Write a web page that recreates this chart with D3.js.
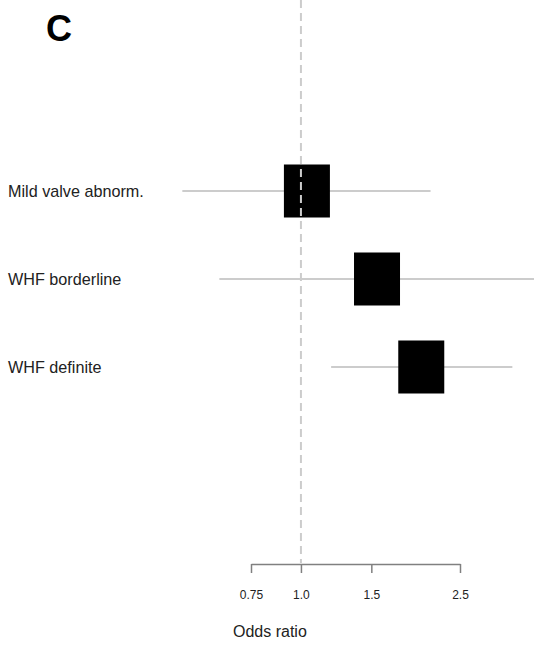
<!DOCTYPE html>
<html>
<head>
<meta charset="utf-8">
<script src="https://cdn.jsdelivr.net/npm/d3@7"></script>
<style>
  body { margin: 0; background: #fff; }
  text { font-family: "Liberation Sans", Arial, Helvetica, sans-serif; }
</style>
</head>
<body>
<svg id="chart" width="534" height="646"></svg>
<script>
// 数据：各类别的比值比及置信区间
const categories = ["Mild valve abnorm.", "WHF borderline", "WHF definite"];
const estimates = [1.035, 1.55, 2.0];
const lower = [0.505, 0.625, 1.19];
const upper = [2.11, 4.0, 3.38];
const tickValues = [0.75, 1.0, 1.5, 2.5];
const tickLabels = ["0.75", "1.0", "1.5", "2.5"];

const W = 534, H = 646;
const svg = d3.select("#chart");

// 对数比例尺
const x = d3.scaleLog().domain([0.75, 2.5]).range([251, 460]);
const y = d3.scalePoint().domain(categories).range([191, 367]);
const axisY = 564;
const boxW = 46, boxH = 53;

// 面板标记
svg.append("text")
  .attr("x", 46).attr("y", 41)
  .attr("font-size", "36px").attr("font-weight", "bold")
  .attr("fill", "#000")
  .text("C");

const rows = categories.map((c, i) => ({ c, est: estimates[i], lo: lower[i], hi: upper[i] }));

// 置信区间
svg.append("g")
  .selectAll("line")
  .data(rows)
  .join("line")
    .attr("x1", d => x(d.lo))
    .attr("x2", d => Math.min(x(d.hi), W))
    .attr("y1", d => y(d.c))
    .attr("y2", d => y(d.c))
    .attr("stroke", "#cccccc")
    .attr("stroke-width", 2);

// 估计值方块
svg.append("g")
  .selectAll("rect")
  .data(rows)
  .join("rect")
    .attr("x", d => x(d.est) - boxW / 2)
    .attr("y", d => y(d.c) - boxH / 2)
    .attr("width", boxW)
    .attr("height", boxH)
    .attr("fill", "#000");

// 参考线 OR = 1（画在方块之上）
svg.append("line")
  .attr("x1", x(1)).attr("x2", x(1))
  .attr("y1", 0).attr("y2", axisY - 1)
  .attr("stroke", "#cccccc").attr("stroke-width", 2)
  .attr("stroke-dasharray", "8,5");

// 类别标签
svg.append("g")
  .selectAll("text")
  .data(rows)
  .join("text")
    .attr("x", 8)
    .attr("y", d => y(d.c) + 5.5)
    .attr("font-size", "16.2px")
    .attr("fill", "#222")
    .text(d => d.c);

// 横轴
const axis = d3.axisBottom(x)
  .tickValues(tickValues)
  .tickFormat((d, i) => tickLabels[i])
  .tickSize(9)
  .tickSizeOuter(0)
  .tickPadding(17);

const gAxis = svg.append("g")
  .attr("transform", `translate(0,${axisY})`)
  .call(axis);
gAxis.select(".domain").attr("stroke", "#808080").attr("stroke-width", 1.5);
gAxis.selectAll(".tick line").attr("stroke", "#808080").attr("stroke-width", 1.5);
gAxis.selectAll(".tick text")
  .attr("font-size", "12px")
  .attr("font-family", "Liberation Sans, Arial, sans-serif")
  .attr("fill", "#222");

svg.append("text")
  .attr("x", 233).attr("y", 637)
  .attr("font-size", "16px")
  .attr("fill", "#222")
  .text("Odds ratio");
</script>
</body>
</html>
